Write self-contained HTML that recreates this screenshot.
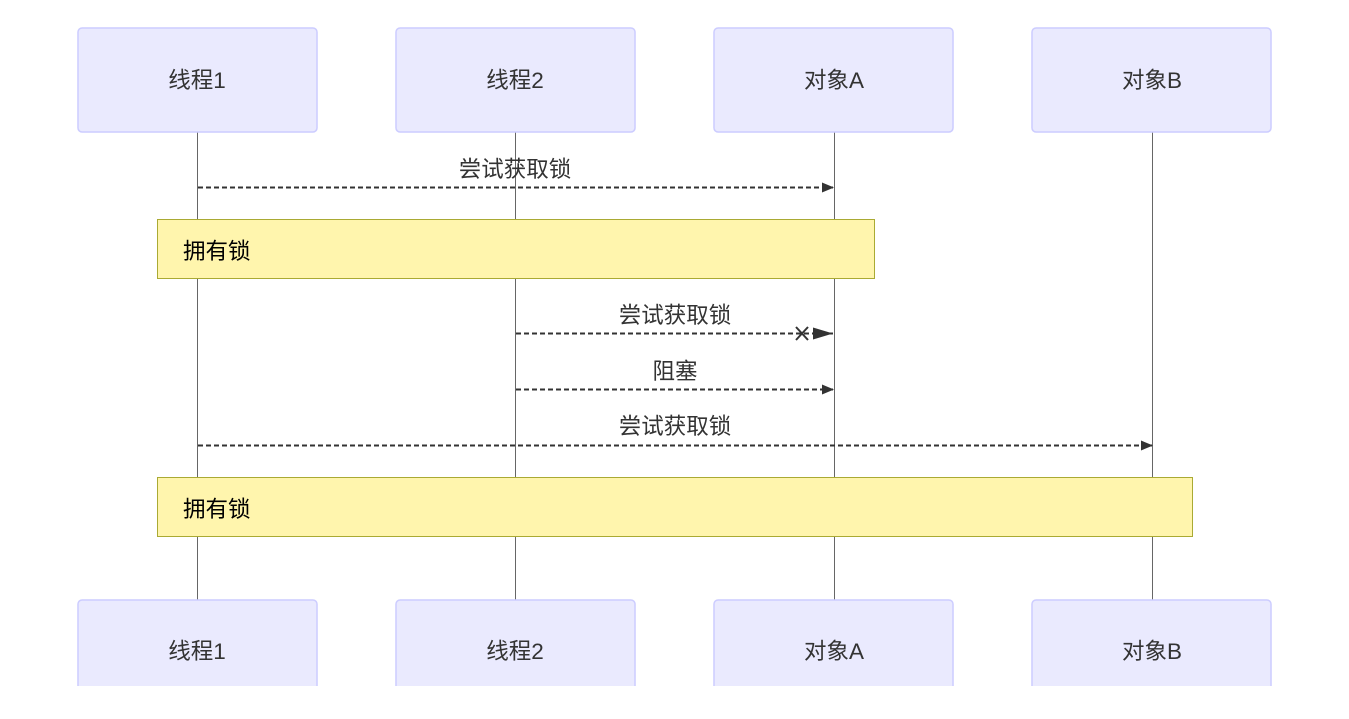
<!DOCTYPE html>
<html><head><meta charset="utf-8"><style>
html,body{margin:0;padding:0;background:#fff;width:1349px;height:719px;overflow:hidden}
text{font-family:"Liberation Sans","Noto Sans CJK SC",sans-serif;font-size:22.5px}
</style></head><body>
<svg width="1349" height="719" xmlns="http://www.w3.org/2000/svg">
<defs>
<marker id="a" markerWidth="12" markerHeight="10" refX="11" refY="5" orient="auto" markerUnits="userSpaceOnUse"><path d="M0,0 L12,5 L0,10 Z" fill="#333"/></marker>
<marker id="b" markerWidth="20" markerHeight="12" refX="20" refY="6" orient="auto" markerUnits="userSpaceOnUse"><path d="M0,0 L20,6 L0,12 Z" fill="#333"/></marker>
<clipPath id="c"><rect x="0" y="0" width="1349" height="686"/></clipPath>
</defs>
<g stroke="#666" stroke-width="1">
<line x1="197.5" y1="132" x2="197.5" y2="600"/>
<line x1="515.5" y1="132" x2="515.5" y2="600"/>
<line x1="834.5" y1="132" x2="834.5" y2="600"/>
<line x1="1152.5" y1="132" x2="1152.5" y2="600"/>
</g>
<g fill="#eaeafe" stroke="#ccccff" stroke-width="1.5">
<rect x="78" y="28" width="239" height="104" rx="4"/>
<rect x="396" y="28" width="239" height="104" rx="4"/>
<rect x="714" y="28" width="239" height="104" rx="4"/>
<rect x="1032" y="28" width="239" height="104" rx="4"/>
<g clip-path="url(#c)">
<rect x="78" y="600" width="239" height="104" rx="4"/>
<rect x="396" y="600" width="239" height="104" rx="4"/>
<rect x="714" y="600" width="239" height="104" rx="4"/>
<rect x="1032" y="600" width="239" height="104" rx="4"/>
</g>
</g>
<g fill="#333" text-anchor="middle">
<text x="197" y="88">线程1</text><text x="515" y="88">线程2</text><text x="834" y="88">对象A</text><text x="1152" y="88">对象B</text>
<text x="197" y="659">线程1</text><text x="515" y="659">线程2</text><text x="834" y="659">对象A</text><text x="1152" y="659">对象B</text>
<text x="515" y="177">尝试获取锁</text>
<text x="675" y="323">尝试获取锁</text>
<text x="675" y="379">阻塞</text>
<text x="675" y="434">尝试获取锁</text>
</g>
<g stroke="#333" stroke-width="2" stroke-dasharray="5,3" fill="none">
<line x1="198" y1="187.5" x2="833" y2="187.5" marker-end="url(#a)"/>
<line x1="516" y1="333.5" x2="833" y2="333.5" marker-end="url(#b)"/>
<line x1="516" y1="389.5" x2="833" y2="389.5" marker-end="url(#a)"/>
<line x1="198" y1="445.5" x2="1152" y2="445.5" marker-end="url(#a)"/>
</g>
<g stroke="#333" stroke-width="2"><line x1="796" y1="327" x2="808" y2="340"/><line x1="808" y1="327" x2="796" y2="340"/></g>
<g fill="#fff5ad" stroke="#aaaa33" stroke-width="1">
<rect x="157.5" y="219.5" width="717" height="59"/>
<rect x="157.5" y="477.5" width="1035" height="59"/>
</g>
<g fill="#000"><text x="183" y="259">拥有锁</text><text x="183" y="517">拥有锁</text></g>
</svg>
</body></html>
